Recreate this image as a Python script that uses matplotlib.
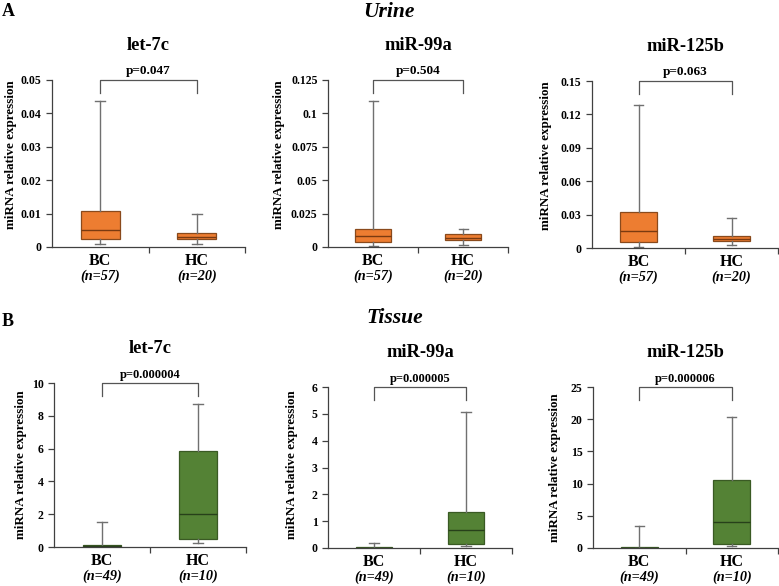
import numpy as np
import matplotlib
matplotlib.use("Agg")
import matplotlib.pyplot as plt

plt.rcParams['font.family'] = ['Liberation Serif', 'DejaVu Serif']
plt.rcParams['font.weight'] = 'bold'

# ── data (box stats: low whisker, Q1, median, Q3, high whisker) ──
groups = ["BC", "HC"]
mirnas = ["let-7c", "miR-99a", "miR-125b"]

urine_n = ["(n=57)", "(n=20)"]
urine_bc = [
    [0.0008, 0.0025, 0.0052, 0.0107, 0.0438],
    [0.0005, 0.0037, 0.0080, 0.0135, 0.1090],
    [0.0009, 0.0054, 0.0150, 0.0321, 0.1280],
]
urine_hc = [
    [0.0008, 0.0023, 0.0029, 0.0043, 0.0099],
    [0.0018, 0.0050, 0.0070, 0.0095, 0.0138],
    [0.0030, 0.0063, 0.0084, 0.0108, 0.0270],
]
urine_p = ["p=0.047", "p=0.504", "p=0.063"]
urine_ymax = [0.05, 0.125, 0.15]
urine_ystep = [0.01, 0.025, 0.03]

tissue_n = ["(n=49)", "(n=10)"]
tissue_bc = [
    [0.0, 0.0, 0.05, 0.12, 1.5],
    [0.0, 0.0, 0.01, 0.03, 0.2],
    [0.0, 0.0, 0.05, 0.15, 3.35],
]
tissue_hc = [
    [0.25, 0.51, 2.03, 5.85, 8.7],
    [0.06, 0.14, 0.66, 1.33, 5.07],
    [0.26, 0.62, 4.02, 10.57, 20.36],
]
tissue_p = ["p=0.000004", "p=0.000005", "p=0.000006"]
tissue_ymax = [10, 6, 25]
tissue_ystep = [2, 1, 5]

W, H = 779, 586
fig = plt.figure(figsize=(W / 100, H / 100), dpi=100)

# axes boxes in pixels: left, top, right, bottom, ylabel offset px, ylabel y
urine_boxes = [(52, 80, 245, 247, 35, 0.55), (328, 80, 508, 247, 43, 0.55),
               (592, 81, 778, 248, 40, 0.55)]
tissue_boxes = [(54, 383, 246, 547, 27, 0.5), (328, 387, 512, 548, 30, 0.52),
                (593, 387, 778, 548, 32, 0.5)]

ORANGE = dict(fill='#ED7D31', edge='#8A4A1C', med='#7A3A10')
GREEN = dict(fill='#548235', edge='#3A5A24', med='#27401A')
SPINE = '#404040'


def stats(vals, label):
    lo, q1, med, q3, hi = vals
    return dict(whislo=lo, q1=q1, med=med, q3=q3, whishi=hi, fliers=[], label=label)


def draw_panel(box, title, bc, hc, nlabels, ptext, psize, ymax, ystep, col):
    l, t, r, b, yoff, ylab_y = box
    ax = fig.add_axes([l / W, 1 - b / H, (r - l) / W, (b - t) / H])
    ax.bxp([stats(bc, groups[0]), stats(hc, groups[1])], positions=[0.5, 1.5],
           widths=0.4, capwidths=0.1, showfliers=False, patch_artist=True,
           boxprops=dict(facecolor=col['fill'], edgecolor=col['edge'], linewidth=0.9),
           medianprops=dict(color=col['med'], linewidth=1.0),
           whiskerprops=dict(color='#707070', linewidth=1.0),
           capprops=dict(color='#707070', linewidth=1.0))
    ax.set_xlim(0, 2)
    ax.set_ylim(0, ymax)
    ax.set_yticks(np.arange(0, ymax + ystep / 2, ystep))
    ax.yaxis.set_major_formatter(matplotlib.ticker.FormatStrFormatter('%g'))
    ax.set_xticks([1, 2])
    ax.set_xticklabels([])
    for s in ['top', 'right']:
        ax.spines[s].set_visible(False)
    for s in ['left', 'bottom']:
        ax.spines[s].set_color(SPINE)
        ax.spines[s].set_linewidth(0.9)
    ax.tick_params(axis='both', direction='out', length=4, width=0.9, color=SPINE,
                   labelsize=8.5)
    for lab in ax.get_yticklabels():
        lab.set_fontweight('bold')

    ax.set_title(title, fontsize=13.3, fontweight='bold', pad=21.5)
    ax.set_ylabel("miRNA relative expression", fontsize=9.4, fontweight='bold')
    ax.yaxis.set_label_coords(-yoff / (r - l), ylab_y)

    # group labels
    hpx = b - t
    trans = matplotlib.transforms.blended_transform_factory(ax.transData, ax.transAxes)
    for x, g, n in zip([0.5, 1.5], groups, nlabels):
        ax.text(x, -6 / hpx, g, transform=trans, ha='center', va='top',
                fontsize=11.5, fontweight='bold')
        ax.text(x, -23 / hpx, n, transform=trans, ha='center', va='top',
                fontsize=10.3, fontweight='bold', fontstyle='italic')

    # significance bracket
    drop = 0.08 * ymax
    ax.plot([0.5, 0.5, 1.5, 1.5], [ymax - drop, ymax, ymax, ymax - drop],
            color='#555555', linewidth=0.9, clip_on=False)
    ax.text(1.0, ymax * 1.015, ptext, ha='center', va='bottom', fontsize=psize,
            fontweight='bold')
    return ax


for i in range(3):
    draw_panel(urine_boxes[i], mirnas[i], urine_bc[i], urine_hc[i], urine_n,
               urine_p[i], 9.5, urine_ymax[i], urine_ystep[i], ORANGE)
    draw_panel(tissue_boxes[i], mirnas[i], tissue_bc[i], tissue_hc[i], tissue_n,
               tissue_p[i], 9, tissue_ymax[i], tissue_ystep[i], GREEN)

fig.text(389 / W, 1 - 12 / H, "Urine", ha='center', va='center', fontsize=15.5,
         fontweight='bold', fontstyle='italic')
fig.text(395 / W, 1 - 318 / H, "Tissue", ha='center', va='center', fontsize=15.5,
         fontweight='bold', fontstyle='italic')
fig.text(2 / W, 1 - 11 / H, "A", ha='left', va='center', fontsize=13, fontweight='bold')
fig.text(2 / W, 1 - 321 / H, "B", ha='left', va='center', fontsize=13, fontweight='bold')

fig.savefig("out.png", dpi=100)
